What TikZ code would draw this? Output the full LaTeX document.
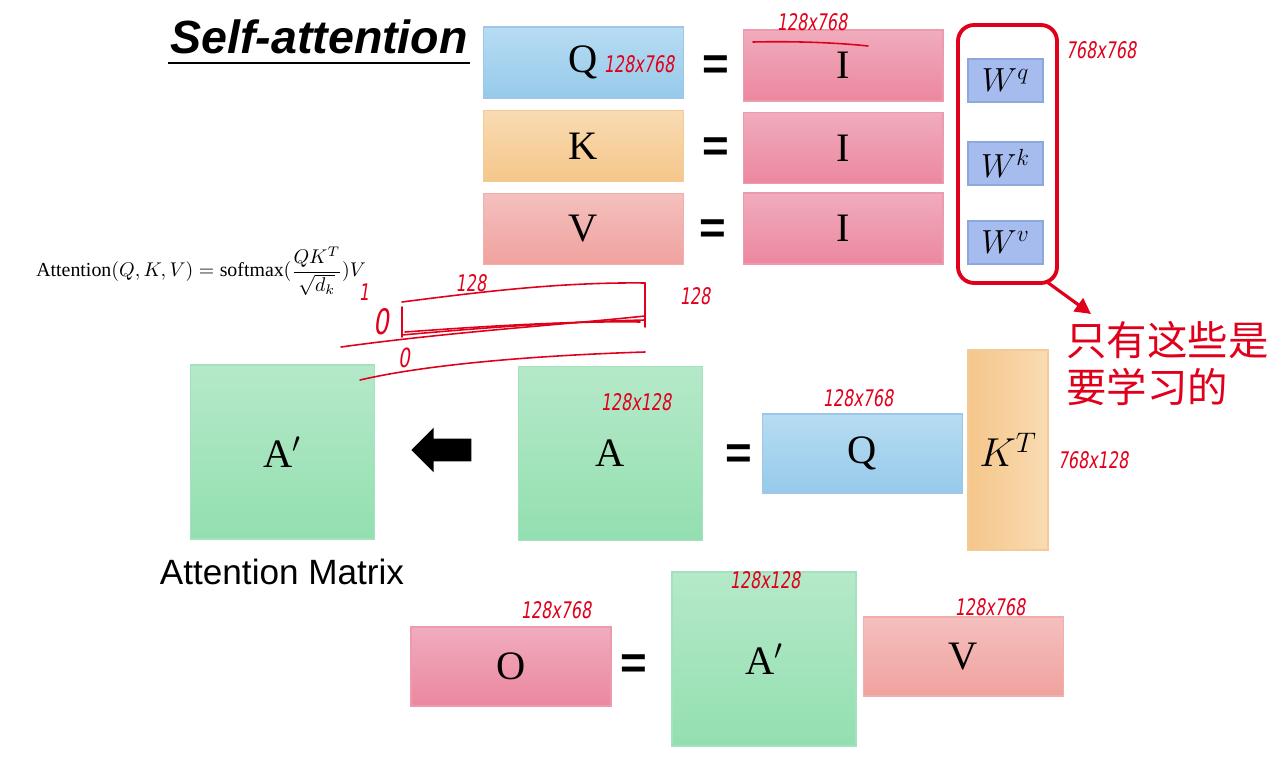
\documentclass[tikz,border=0pt]{standalone}
\usepackage{fix-cm}
\usepackage{amsmath}
\usepackage{fontspec}
\setmainfont{Liberation Serif}
\setsansfont{Liberation Sans}
\newfontfamily\cjkfont{Noto Sans CJK SC}
\newfontfamily\penfont[FakeStretch=0.7,FakeSlant=0.15]{DejaVu Sans}
\usetikzlibrary{arrows.meta,positioning,calc,shapes.arrows}
\definecolor{qTop}{HTML}{B7DCF2}
\definecolor{qBot}{HTML}{96CAEA}
\definecolor{qLine}{HTML}{9DC6E8}
\definecolor{kTop}{HTML}{F9DBB3}
\definecolor{kBot}{HTML}{F5C68A}
\definecolor{kLine}{HTML}{F3CB98}
\definecolor{vTop}{HTML}{F4C0BE}
\definecolor{vBot}{HTML}{F0A29E}
\definecolor{vLine}{HTML}{EFAFAC}
\definecolor{iTop}{HTML}{F0ACBD}
\definecolor{iBot}{HTML}{EC879F}
\definecolor{iLine}{HTML}{EC9AAE}
\definecolor{aTop}{HTML}{B5E9C9}
\definecolor{aBot}{HTML}{93DFB0}
\definecolor{aLine}{HTML}{A3E2BC}
\definecolor{wFill}{HTML}{A7BCEE}
\definecolor{wLine}{HTML}{8DA8DA}
\definecolor{penRed}{HTML}{E0001B}

\begin{document}
\begin{tikzpicture}[x=0.02cm,y=-0.02cm,
    mat/.style={top color=#1Top, bottom color=#1Bot, draw=#1Line, line width=0.6pt, inner sep=0pt, font=\fontsize{23}{26}\selectfont},
    wide/.style={minimum width=4cm, minimum height=1.42cm},
    flat/.style={minimum width=4cm, minimum height=1.58cm},
    sq/.style={minimum width=3.68cm, minimum height=3.48cm},
    eq/.style={font=\sffamily\bfseries\fontsize{26}{26}\selectfont, inner sep=0pt},
    wmat/.style={fill=wFill, draw=wLine, line width=0.6pt, minimum width=1.5cm, minimum height=0.86cm, inner sep=0pt, font=\fontsize{19}{19}\selectfont},
    pen/.style={text=penRed, inner sep=0pt, font=\penfont\fontsize{13}{13}\selectfont},
    penline/.style={draw=penRed, line width=0.9pt, line cap=round, line join=round}]

\useasboundingbox (0,0) rectangle (1288,760);

% title
\node[anchor=base west, inner sep=0pt, font=\sffamily\bfseries\itshape\fontsize{26.5}{30}\selectfont] (title) at (170,54) {Self-attention};
\draw[line width=1.7pt] ($(title.base west)+(-2,9)$) -- ($(title.base east)+(2,9)$);

% Q, K, V from I
\node[mat=q, wide] (q) at (583.5,62.5) {Q};
\node[mat=i, wide] (ia) at (843,65.5) {I};
\node[mat=k, wide] (k) at (583.5,146) {K};
\node[mat=i, wide] (ib) at (843,148) {I};
\node[mat=v, wide] (v) at (583.5,229) {V};
\node[mat=i, wide] (ic) at (843,228.5) {I};
\node[eq] (eqq) at (716,68) {=};
\node[eq] (eqk) at (716,150) {=};
\node[eq] (eqv) at (713,232) {=};

% weights
\node[wmat] (wq) at (1005.5,80.5) {$W^{q}$};
\node[wmat] (wk) at (1005.5,163.5) {$W^{k}$};
\node[wmat] (wv) at (1005.5,242.5) {$W^{v}$};
\node[draw=penRed, line width=2.2pt, rounded corners=0.32cm, minimum width=1.98cm, minimum height=5.16cm] (learn) at (1007.5,154) {};
\node[anchor=north west, align=left, inner sep=0pt, text=penRed, font=\cjkfont\fontsize{23}{26.5}\selectfont] (note) at (1066,321) {只有这些是\\要学习的};
\draw[draw=penRed, line width=1.8pt, -{Triangle[length=9pt,width=9pt]}] ($(learn.south east)+(-12,-3)$) -- ($(note.north west)+(25,-7)$);

% formula
\node[anchor=west, inner sep=0pt, font=\fontsize{11.3}{13}\selectfont] (formula) at (36,271) {$\displaystyle\mathrm{Attention}(Q,K,V)=\mathrm{softmax}(\frac{QK^T}{\sqrt{d_k}})V$};

% attention matrix
\node[mat=a, sq] (ap) at (282.5,452) {A$'$};
\node[mat=a, sq] (a) at (610.5,453.5) {A};
\node[single arrow, fill=black, shape border rotate=180, minimum height=1.2cm, minimum width=0.88cm, single arrow head extend=0.22cm, inner sep=0.22cm] (flow) at (447,450) {};
\node[eq] (eqa) at (738.5,457) {=};
\node[mat=q, flat] (qb) at (862.5,453.5) {Q};
\node[mat=k, minimum width=1.6cm, minimum height=4cm, left color=kBot, right color=kTop] (kt) at (1008,450) {$K^{T}$};
\node[font=\sffamily\fontsize{20}{20}\selectfont, inner sep=0pt] (cap) at (282,572) {Attention Matrix};

% output
\node[mat=i, flat] (o) at (511,666.5) {O};
\node[eq] (eqo) at (634,667) {=};
\node[mat=a, sq] (apb) at (764,659) {A$'$};
\node[mat=v, flat] (vb) at (963.5,656.5) {V};

% pen notes
\node[pen] at (639,64) {128x768};
\node[pen] at (812,22) {128x768};
\draw[penline] (753,42) .. controls (800,41) and (840,43) .. (868,46);
\node[pen] at (1101,50) {768x768};
\node[pen] at (636,402) {128x128};
\node[pen] at (858,398) {128x768};
\node[pen] at (1093,460) {768x128};
\node[pen] at (556,610) {128x768};
\node[pen] at (765,580) {128x128};
\node[pen] at (990,607) {128x768};

% pen sketch
\node[pen] at (471,283) {128};
\node[pen] at (695,296) {128};
\node[pen] at (364,292) {1};
\node[pen, font=\penfont\fontsize{20}{20}\selectfont] at (381,322) {0};
\node[pen, font=\penfont\fontsize{15}{15}\selectfont] at (404,358) {0};
\draw[penline] (402,337) -- (402,307);
\draw[penline] (402,302) .. controls (480,292) and (560,282) .. (645,283);
\draw[penline] (645,283) -- (645,327);
\draw[penline] (402,335) .. controls (480,328) and (560,322) .. (645,320);
\draw[penline] (405,332) .. controls (500,325) and (580,321) .. (640,322);
\draw[penline] (341,347) .. controls (450,332) and (560,325) .. (645,316);
\draw[penline] (360,380) .. controls (420,366) and (520,356) .. (645,352);
\end{tikzpicture}
\end{document}
